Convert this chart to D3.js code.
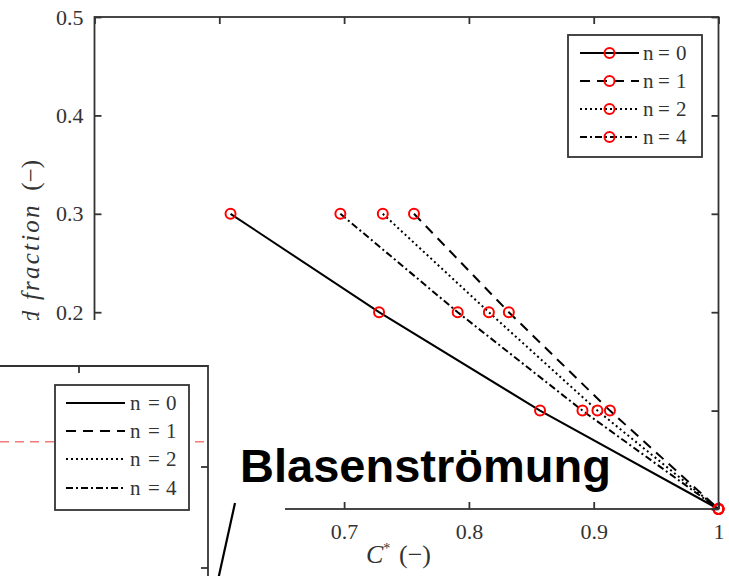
<!DOCTYPE html>
<html>
<head>
<meta charset="utf-8">
<script src="https://cdn.jsdelivr.net/npm/d3@7"></script>
<style>
  html, body { margin: 0; padding: 0; background: #fff; }
  svg { display: block; }
  .serif { font-family: "Liberation Serif", "DejaVu Serif", serif; fill: #333; }
</style>
</head>
<body>
<svg id="chart" width="729" height="576"></svg>
<script>
// ---- data ----
const voidFraction = [0.3, 0.2, 0.1, 0.0];
const cStarN0 = [0.609, 0.728, 0.857, 1.0];
const cStarN1 = [0.756, 0.832, 0.913, 1.0];
const cStarN2 = [0.731, 0.816, 0.903, 1.0];
const cStarN4 = [0.697, 0.791, 0.891, 1.0];
const seriesNames = ["0", "1", "2", "4"];
const xTicks = [0.5, 0.6, 0.7, 0.8, 0.9, 1];
const yTicks = [0, 0.1, 0.2, 0.3, 0.4, 0.5];
const xTickLabels = ["0.5", "0.6", "0.7", "0.8", "0.9", "1"];
const yTickLabels = ["0", "0.1", "0.2", "0.3", "0.4", "0.5"];

// second (inset) panel
const insetYTicks = [0.4, 0.3];
const insetXTicks = [0.9];
const insetThreshold = [0.425];

const dashStyles = ["none", "10,7", "2,3", "7,3,2,3"];

const svg = d3.select("#chart");
const W = 729, H = 576;

// ---- main axes ----
const x = d3.scaleLinear().domain([0.5, 1]).range([94.5, 718.5]);
const y = d3.scaleLinear().domain([0, 0.5]).range([509, 17]);

const main = svg.append("g");
const axisColor = "#333";
const tickLen = 7;

// data lines
const series = [cStarN0, cStarN1, cStarN2, cStarN4].map((xs, i) => ({
  name: seriesNames[i],
  dash: dashStyles[i],
  pts: xs.map((v, j) => ({ x: v, y: voidFraction[j] }))
}));

const line = d3.line().x(d => x(d.x)).y(d => y(d.y));
main.selectAll("path.series").data(series).join("path")
  .attr("class", "series")
  .attr("d", d => line(d.pts))
  .attr("fill", "none")
  .attr("stroke", "#000")
  .attr("stroke-width", 2)
  .attr("stroke-dasharray", d => d.dash);

series.forEach(s => {
  main.selectAll(null).data(s.pts).join("circle")
    .attr("cx", d => x(d.x)).attr("cy", d => y(d.y)).attr("r", 5)
    .attr("fill", "none").attr("stroke", "#f00").attr("stroke-width", 2);
});

// box + ticks on all sides
const axG = main.append("g");
axG.append("rect")
  .attr("x", x(0.5)).attr("y", y(0.5))
  .attr("width", x(1) - x(0.5)).attr("height", y(0) - y(0.5))
  .attr("fill", "none").attr("stroke", axisColor).attr("stroke-width", 1.8);

const bottomAxis = d3.axisBottom(x).tickValues(xTicks).tickSize(-tickLen).tickPadding(14)
  .tickFormat((d, i) => xTickLabels[i]);
const topAxis = d3.axisTop(x).tickValues(xTicks).tickSize(-tickLen).tickFormat("");
const leftAxis = d3.axisLeft(y).tickValues(yTicks).tickSize(-tickLen).tickPadding(11)
  .tickFormat((d, i) => yTickLabels[i]);
const rightAxis = d3.axisRight(y).tickValues(yTicks).tickSize(-tickLen).tickFormat("");

function styleAxis(g) {
  g.select(".domain").remove();
  g.selectAll(".tick line").attr("stroke", axisColor).attr("stroke-width", 1.8);
  g.selectAll(".tick text").attr("class", "serif").attr("font-size", 22).attr("fill", "#3a3a3a");
}
axG.append("g").attr("transform", `translate(0,${y(0)})`).call(bottomAxis).call(styleAxis);
axG.append("g").attr("transform", `translate(0,${y(0.5)})`).call(topAxis).call(styleAxis);
axG.append("g").attr("transform", `translate(${x(0.5)},0)`).call(leftAxis).call(styleAxis);
axG.append("g").attr("transform", `translate(${x(1)},0)`).call(rightAxis).call(styleAxis);

// axis titles
const xt = main.append("text").attr("class", "serif").attr("font-size", 26).attr("y", 563);
xt.append("tspan").attr("x", 366).attr("font-style", "italic").text("C");
xt.append("tspan").attr("font-size", 14).attr("dy", -10).text("*");
xt.append("tspan").attr("x", 399).attr("dy", 10).text("(\u2212)");

const yt = main.append("text").attr("class", "serif").attr("font-size", 25)
  .attr("transform", "translate(39,160) rotate(-90)").attr("text-anchor", "end");
yt.append("tspan").attr("font-style", "italic").attr("letter-spacing", 2.2).text("Void fraction");
yt.append("tspan").text("\u2002(\u2212)");

// legend
function drawLegend(g, withMarkers, lx, ly, lw, lh, rows, rowY, x0, x1, tx, gap) {
  g.append("rect").attr("x", lx).attr("y", ly).attr("width", lw).attr("height", lh)
    .attr("fill", "#fff").attr("stroke", axisColor).attr("stroke-width", 1.8);
  rows.forEach((s, i) => {
    const yy = rowY[i];
    g.append("line").attr("x1", x0).attr("x2", x1).attr("y1", yy).attr("y2", yy)
      .attr("stroke", "#000").attr("stroke-width", 2).attr("stroke-dasharray", s.dash);
    if (withMarkers) {
      g.append("circle").attr("cx", (x0 + x1) / 2).attr("cy", yy).attr("r", 5)
        .attr("fill", "none").attr("stroke", "#f00").attr("stroke-width", 2);
    }
    const t = g.append("text").attr("class", "serif").attr("font-size", 21).attr("y", yy + 7);
    t.append("tspan").attr("x", tx).text("n");
    t.append("tspan").attr("x", tx + gap).text("=");
    t.append("tspan").attr("x", tx + gap + 18).text(s.name);
  });
}
drawLegend(main.append("g"), true, 568, 35, 134, 122, series, [53, 81, 109, 137], 580, 639, 643, 15);

// ---- second panel fragment (lower left) ----
const inset = svg.append("g");
inset.append("rect").attr("x", 0).attr("y", 320).attr("width", 285).attr("height", H - 320)
  .attr("fill", "#fff");

const iy = d3.scaleLinear().domain([0.3, 0.5]).range([568, 366]);
const ix = d3.scaleLinear().domain([0.9, 1]).range([79, 208]);

// red dashed reference level
inset.selectAll(null).data(insetThreshold).join("line")
  .attr("x1", 0).attr("x2", ix(1)).attr("y1", d => iy(d)).attr("y2", d => iy(d))
  .attr("stroke", "#f27a7a").attr("stroke-width", 1.3).attr("stroke-dasharray", "9,6");

inset.append("path")
  .attr("d", `M0,${iy(0.5)}H${ix(1)}V${H}`)
  .attr("fill", "none").attr("stroke", axisColor).attr("stroke-width", 1.8);
inset.selectAll(null).data(insetXTicks).join("line")
  .attr("x1", d => ix(d)).attr("x2", d => ix(d)).attr("y1", iy(0.5)).attr("y2", iy(0.5) + tickLen)
  .attr("stroke", axisColor).attr("stroke-width", 1.8);
inset.selectAll(null).data(insetYTicks).join("line")
  .attr("x1", ix(1) - tickLen).attr("x2", ix(1)).attr("y1", d => iy(d)).attr("y2", d => iy(d))
  .attr("stroke", axisColor).attr("stroke-width", 1.8);

drawLegend(inset.append("g"), false, 55, 385, 134, 125, series, [403, 431, 459, 488], 66, 125, 130, 18);

// annotation
svg.append("text").attr("x", 240).attr("y", 482)
  .attr("font-family", "Liberation Sans, Arial, sans-serif").attr("font-weight", "bold")
  .attr("font-size", 47).attr("fill", "#000").text("Blasenströmung");
svg.append("line").attr("x1", 235).attr("y1", 503).attr("x2", 218).attr("y2", 580)
  .attr("stroke", "#000").attr("stroke-width", 2.2);
</script>
</body>
</html>
